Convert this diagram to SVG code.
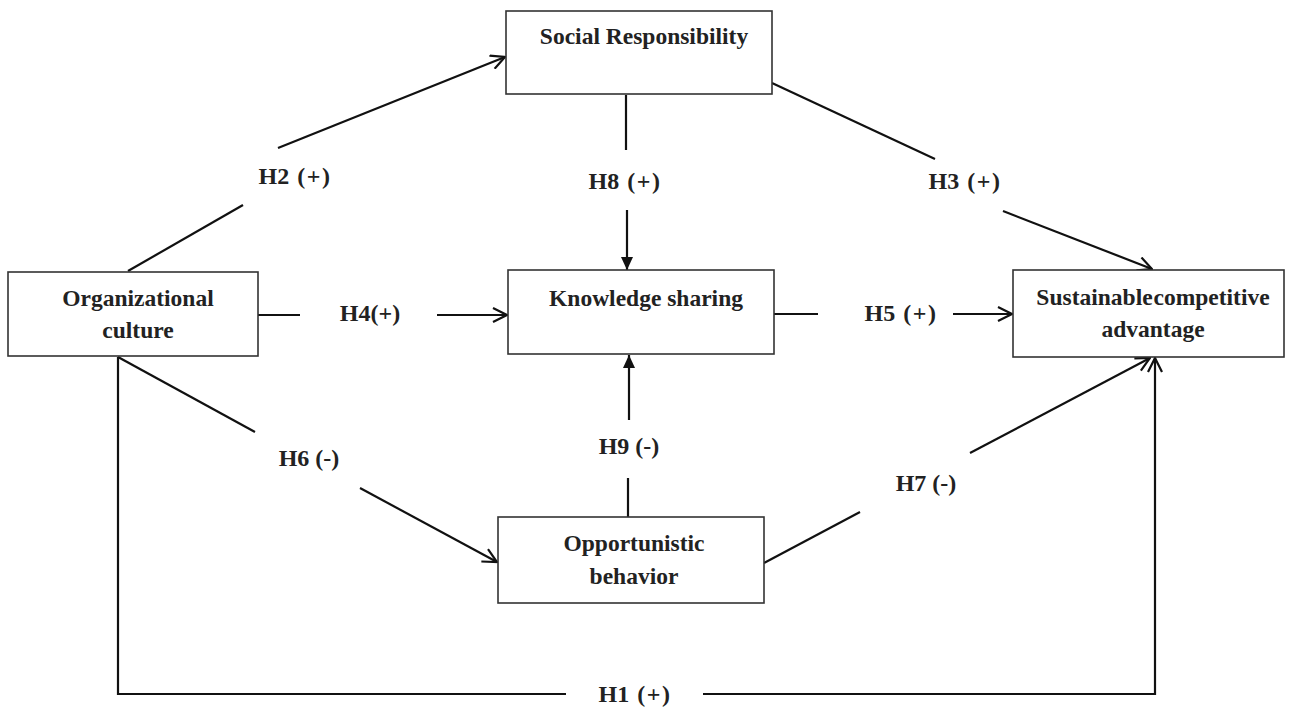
<svg xmlns="http://www.w3.org/2000/svg" width="1294" height="709" viewBox="0 0 1294 709">
<defs>
<style>
.box{fill:#fff;stroke:#333;stroke-width:1.6}
.t{font-family:"Liberation Serif","Times New Roman",serif;font-weight:bold;font-size:23.5px;fill:#222;text-anchor:middle}
.h{font-size:24px}
.p{word-spacing:2px}
.p tspan{letter-spacing:1.5px}
.ln{stroke:#111;stroke-width:2.2;fill:none}
</style>
<marker id="open" viewBox="0 0 16 16" refX="15" refY="8" markerWidth="16" markerHeight="16" markerUnits="userSpaceOnUse" orient="auto">
<path d="M1,1 L15,8 L1,15" fill="none" stroke="#111" stroke-width="2.2"/>
</marker>
<marker id="fill" viewBox="0 0 14 14" refX="13" refY="7" markerWidth="14" markerHeight="14" markerUnits="userSpaceOnUse" orient="auto">
<path d="M0,1 L13,7 L0,13 Z" fill="#111"/>
</marker>
</defs>
<rect width="1294" height="709" fill="#fff"/>
<g id="connectors">
<!-- H2 -->
<line class="ln" x1="128" y1="271" x2="243" y2="205"/>
<line class="ln" x1="278" y1="148" x2="505" y2="57" marker-end="url(#open)"/>
<!-- H3 -->
<line class="ln" x1="772" y1="83" x2="935" y2="159"/>
<line class="ln" x1="1003" y1="211" x2="1152" y2="269" marker-end="url(#open)"/>
<!-- H8 -->
<line class="ln" x1="626" y1="95" x2="626" y2="150"/>
<line class="ln" x1="627" y1="210" x2="627" y2="270" marker-end="url(#fill)"/>
<!-- H4 -->
<line class="ln" x1="258" y1="315" x2="300" y2="315"/>
<line class="ln" x1="437" y1="315" x2="507" y2="315" marker-end="url(#open)"/>
<!-- H5 -->
<line class="ln" x1="774" y1="314" x2="818" y2="314"/>
<line class="ln" x1="953" y1="314" x2="1012" y2="314" marker-end="url(#open)"/>
<!-- H6 -->
<line class="ln" x1="118" y1="357" x2="255" y2="432"/>
<line class="ln" x1="360" y1="488" x2="497" y2="562" marker-end="url(#open)"/>
<!-- H9 -->
<line class="ln" x1="628" y1="517" x2="628" y2="478"/>
<line class="ln" x1="629" y1="420" x2="629" y2="355" marker-end="url(#fill)"/>
<!-- H7 -->
<line class="ln" x1="764" y1="563" x2="860" y2="512"/>
<line class="ln" x1="970" y1="453" x2="1150" y2="358" marker-end="url(#open)"/>
<!-- H1 -->
<polyline class="ln" points="118,357 118,694 566,694"/>
<polyline class="ln" points="703,694 1155,694 1155,358" marker-end="url(#open)"/>
</g>
<g id="labels">
<text class="t h p" x="295" y="184">H2 <tspan>(+)</tspan></text>
<text class="t h p" x="965" y="189">H3 <tspan>(+)</tspan></text>
<text class="t h p" x="625" y="189">H8 <tspan>(+)</tspan></text>
<text class="t h" x="370" y="321">H4(+)</text>
<text class="t h p" x="901" y="321">H5 <tspan>(+)</tspan></text>
<text class="t h" x="309" y="466">H6 (-)</text>
<text class="t h" x="629" y="454">H9 (-)</text>
<text class="t h" x="926" y="491">H7 (-)</text>
<text class="t h p" x="635" y="702">H1 <tspan>(+)</tspan></text>
</g>
<g id="social-responsibility">
<rect class="box" x="506" y="11" width="266" height="83"/>
<text class="t" x="644" y="44">Social Responsibility</text>
</g>
<g id="organizational-culture">
<rect class="box" x="8" y="272" width="250" height="84"/>
<text class="t" x="138" y="306">Organizational</text>
<text class="t" x="138" y="338">culture</text>
</g>
<g id="knowledge-sharing">
<rect class="box" x="508" y="270" width="266" height="84"/>
<text class="t" x="646" y="306">Knowledge sharing</text>
</g>
<g id="sustainable-competitive-advantage">
<rect class="box" x="1013" y="270" width="271" height="87"/>
<text class="t" x="1153" y="305" word-spacing="-5">Sustainable competitive</text>
<text class="t" x="1153" y="337">advantage</text>
</g>
<g id="opportunistic-behavior">
<rect class="box" x="498" y="517" width="266" height="86"/>
<text class="t" x="634" y="551">Opportunistic</text>
<text class="t" x="634" y="584">behavior</text>
</g>
</svg>
